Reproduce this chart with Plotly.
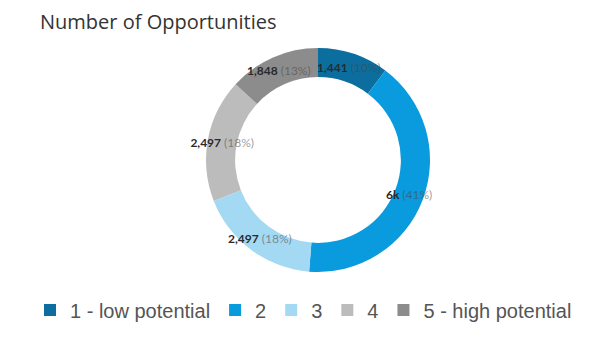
import plotly.graph_objects as go

categories = ["1 - low potential", "2", "3", "4", "5 - high potential"]
values = [1441, 5756, 2497, 2497, 1848]
value_labels = ["1,441", "6k", "2,497", "2,497", "1,848"]
colors = ["#0b6e9e", "#0a9ade", "#a3d9f3", "#bcbcbc", "#8c8c8c"]

W, H = 612, 337
cx, cy, r = 318, 160, 112

fig = go.Figure(go.Pie(
    labels=categories,
    values=values,
    customdata=value_labels,
    sort=False,
    direction="clockwise",
    hole=0.74,
    marker=dict(colors=colors, line=dict(width=0)),
    texttemplate="<b>%{customdata}</b> <span style='color:rgba(70,70,70,0.55)'>(%{percent:.0%})</span>",
    textposition="inside",
    insidetextorientation="horizontal",
    insidetextfont=dict(family="Lato, Open Sans, sans-serif", size=12, color="#2a2a2a"),
    domain=dict(x=[(cx - r) / W, (cx + r) / W], y=[1 - (cy + r) / H, 1 - (cy - r) / H]),
    hoverinfo="label+value+percent",
))

fig.update_layout(
    width=W, height=H,
    margin=dict(l=0, r=0, t=0, b=0),
    paper_bgcolor="white",
    title=dict(text="Number of Opportunities", x=40 / W, xanchor="left",
               y=1 - 22 / H, yanchor="middle",
               font=dict(family="Open Sans, sans-serif", size=20, color="#333333")),
    showlegend=True,
    legend=dict(orientation="h", x=30 / W, xanchor="left", y=1 - 310 / H, yanchor="middle",
                font=dict(family="Liberation Sans, Arial, sans-serif", size=20, color="#555555"),
                itemclick=False, traceorder="normal"),
    uniformtext=dict(minsize=12, mode="show"),
)

fig.write_html("out.html")
